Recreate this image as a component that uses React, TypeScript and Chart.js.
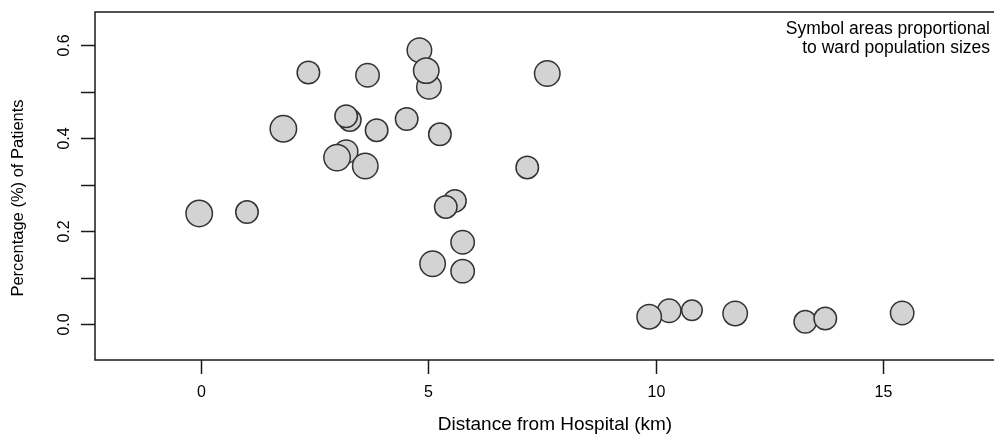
import React, { useEffect, useRef } from "react";
import { Chart, registerables } from "chart.js";

Chart.register(...registerables);

// Ward data (drawing order)
const distanceKm = [
  -0.03, 1.02, 1.82, 2.37, 3.28, 3.2, 3.67, 3.87, 3.2, 3.0, 3.62, 4.53, 4.81, 5.02, 4.96,
  5.26, 5.59, 5.39, 5.76, 5.1, 5.76, 7.62, 7.18, 10.8, 10.3, 9.86, 11.75, 13.29, 13.73, 15.42,
];
const patientPct = [
  0.238, 0.241, 0.42, 0.541, 0.439, 0.447, 0.535, 0.417, 0.371, 0.358, 0.34, 0.441, 0.589, 0.51,
  0.545, 0.408, 0.265, 0.252, 0.176, 0.13, 0.114, 0.539, 0.337, 0.03, 0.029, 0.016, 0.023, 0.005,
  0.012, 0.024,
];
// ward population (thousands) – symbol area proportional to it
const wardPopulation = [
  34.5, 25, 34.5, 25, 25, 25, 27, 25, 27, 34.5, 32, 25, 29.5, 29.5, 32, 25, 25, 25, 27, 32, 27, 32,
  25, 21, 27, 29.5, 29.5, 25, 25, 27,
];

const xTickValues = [0, 5, 10, 15];
const xTickLabels = ["0", "5", "10", "15"];
const yTickValues = [0, 0.1, 0.2, 0.3, 0.4, 0.5, 0.6];
const yTickLabels = ["0.0", "", "0.2", "", "0.4", "", "0.6"];
const xTitle = "Distance from Hospital (km)";
const yTitle = "Percentage (%) of Patients";
const noteLines = ["Symbol areas proportional", "to ward population sizes"];

const W = 1020;
const H = 439;
const FONT = '"Liberation Sans", Arial, Helvetica, sans-serif';
const INK = "#1a1a1a";

const axesPlugin = {
  id: "rStyleAxes",
  afterDraw(chart: any) {
    const { ctx, chartArea: a, scales } = chart;
    const xs = scales.x;
    const ys = scales.y;
    ctx.save();
    ctx.strokeStyle = INK;
    ctx.fillStyle = "#000";
    ctx.lineWidth = 1.5;
    ctx.strokeRect(a.left, a.top, a.right - a.left, a.bottom - a.top);

    // y ticks
    ctx.font = `16px ${FONT}`;
    yTickValues.forEach((v, i) => {
      const py = Math.round(ys.getPixelForValue(v)) + 0.5;
      ctx.beginPath();
      ctx.moveTo(a.left, py);
      ctx.lineTo(a.left - 14, py);
      ctx.stroke();
      const lab = yTickLabels[i];
      if (lab) {
        ctx.save();
        ctx.translate(a.left - 30, py);
        ctx.rotate(-Math.PI / 2);
        ctx.textAlign = "center";
        ctx.textBaseline = "middle";
        ctx.fillText(lab, 0, 0);
        ctx.restore();
      }
    });

    // x ticks
    xTickValues.forEach((v, i) => {
      const px = Math.round(xs.getPixelForValue(v)) + 0.5;
      ctx.beginPath();
      ctx.moveTo(px, a.bottom);
      ctx.lineTo(px, a.bottom + 14);
      ctx.stroke();
      ctx.textAlign = "center";
      ctx.textBaseline = "middle";
      ctx.fillText(xTickLabels[i], px, a.bottom + 33);
    });

    // axis titles
    ctx.textAlign = "center";
    ctx.textBaseline = "middle";
    ctx.font = `19px ${FONT}`;
    ctx.fillText(xTitle, (a.left + a.right) / 2, a.bottom + 65);
    ctx.font = `16.5px ${FONT}`;
    ctx.save();
    ctx.translate(18, (a.top + a.bottom) / 2 + 12);
    ctx.rotate(-Math.PI / 2);
    ctx.fillText(yTitle, 0, 0);
    ctx.restore();

    // note
    ctx.font = `17.5px ${FONT}`;
    ctx.textAlign = "right";
    ctx.textBaseline = "middle";
    noteLines.forEach((t, i) => ctx.fillText(t, 990, a.top + 17 + i * 19));
    ctx.restore();
  },
};

export default function App() {
  const ref = useRef<HTMLCanvasElement | null>(null);
  useEffect(() => {
    if (!ref.current) return;
    const data = distanceKm.map((x, i) => ({ x, y: patientPct[i] }));
    const radii = wardPopulation.map((p) => 2.25 * Math.sqrt(p));
    const chart = new Chart(ref.current, {
      type: "scatter",
      data: {
        datasets: [
          {
            data,
            pointRadius: radii,
            pointHoverRadius: radii,
            backgroundColor: "#d3d3d3",
            borderColor: "#333",
            borderWidth: 1.5,
          },
        ],
      },
      options: {
        responsive: false,
        animation: false,
        devicePixelRatio: 1,
        layout: {
          autoPadding: false,
          padding: { left: 95, top: 12, right: W - 1015, bottom: H - 360 },
        },
        scales: {
          x: { type: "linear", min: -2.32, max: 17.9, display: false },
          y: { type: "linear", min: -0.077, max: 0.671, display: false },
        },
        plugins: { legend: { display: false }, tooltip: { enabled: false } },
      },
      plugins: [axesPlugin],
    });
    return () => chart.destroy();
  }, []);
  return (
    <div
      style={{
        position: "fixed",
        left: 0,
        top: 0,
        width: 994,
        height: 439,
        overflow: "hidden",
        background: "#fff",
      }}
    >
      <canvas ref={ref} width={W} height={H} style={{ display: "block", width: W, height: H }} />
    </div>
  );
}
